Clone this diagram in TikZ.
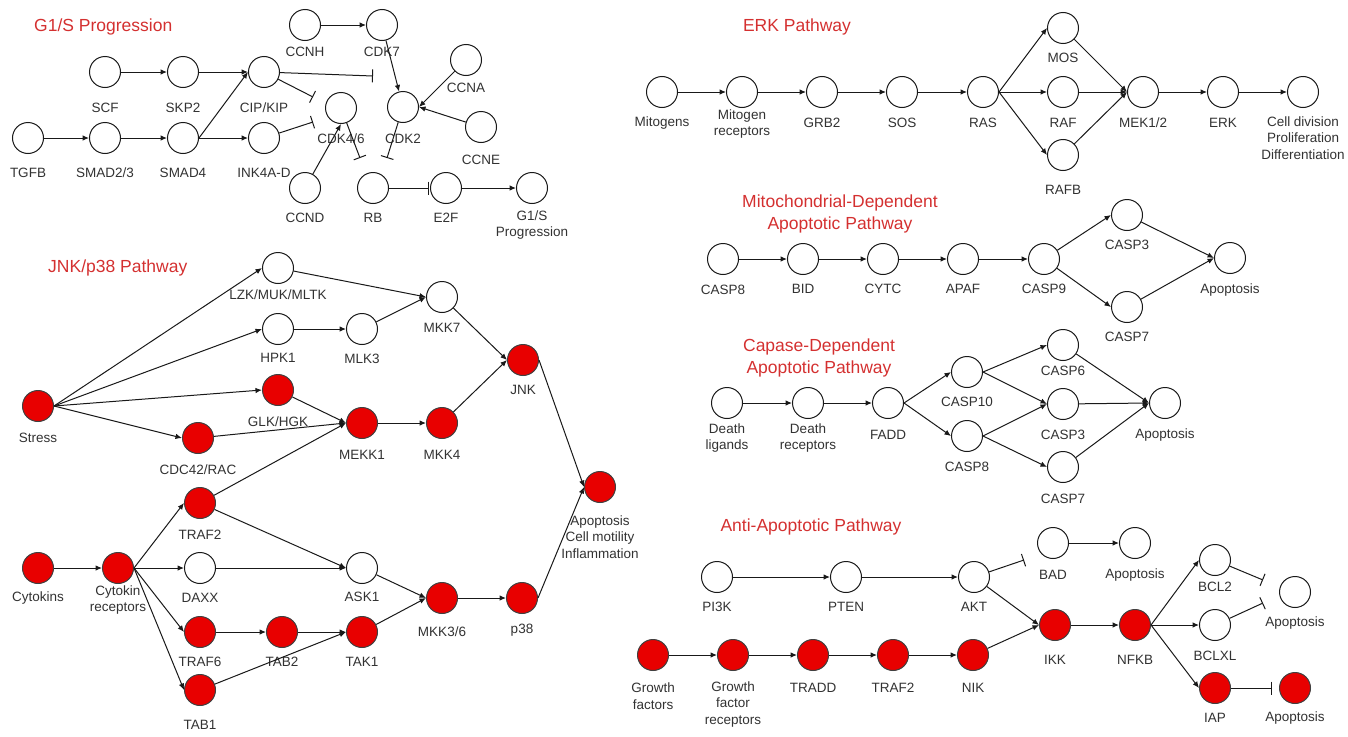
\documentclass[tikz,border=0pt]{standalone}
\usepackage{fontspec}
\setmainfont{Liberation Sans}
\usetikzlibrary{arrows.meta}
\definecolor{nred}{RGB}{232,0,0}
\definecolor{tred}{RGB}{212,48,48}
\definecolor{tgray}{RGB}{50,50,50}
\definecolor{lgray}{RGB}{25,25,25}
\tikzset{
  wn/.style={circle, draw=lgray, fill=white, minimum size=31pt, inner sep=0pt, line width=1pt},
  rn/.style={wn, fill=nred, draw=black!75},
  lab/.style={font=\fontsize{13.5}{16.5}\selectfont, text=tgray, align=center, inner sep=0pt},
  ttl/.style={font=\fontsize{17.5}{22}\selectfont, text=tred, align=center, inner sep=0pt},
  act/.style={draw=lgray, line width=1pt, -{Latex[length=6.5pt,width=5.5pt]}},
  inh/.style={draw=lgray, line width=1pt, -{Bar[width=13pt,line width=1pt]}},
}
\newcommand{\Nd}[6][wn]{\node[#1] (#2) at (#3,#4) {}; \node[lab] (#2-l) at (#3,#5) {#6};}
\begin{document}
\begin{tikzpicture}[x=1pt,y=-1pt]
\useasboundingbox (0,0) rectangle (1348,736);
% titles
\node[ttl, anchor=west] (t1) at (34,27) {G1/S Progression};
\node[ttl, anchor=west] (t2) at (48,268) {JNK/p38 Pathway};
\node[ttl] (t3) at (797,27) {ERK Pathway};
\node[ttl] (t4) at (840,214) {Mitochondrial-Dependent\\Apoptotic Pathway};
\node[ttl] (t5) at (819,358) {Capase-Dependent\\Apoptotic Pathway};
\node[ttl] (t6) at (811,527) {Anti-Apoptotic Pathway};
% G1/S
\Nd{ccnh}{305}{25}{52}{CCNH}
\Nd{cdk7}{382}{25}{52}{CDK7}
\Nd{ccna}{466}{60}{88}{CCNA}
\Nd{scf}{105}{72}{108}{SCF}
\Nd{skp2}{183}{72}{108}{SKP2}
\Nd{cip}{264}{72}{108}{CIP/KIP}
\Nd{cdk46}{341}{108}{139}{CDK4/6}
\Nd{cdk2}{403}{107}{139}{CDK2}
\Nd{ccne}{481}{127}{160}{CCNE}
\Nd{tgfb}{28}{138}{173}{TGFB}
\Nd{smad23}{105}{138}{173}{SMAD2/3}
\Nd{smad4}{183}{138}{173}{SMAD4}
\Nd{ink4}{264}{138}{173}{INK4A-D}
\Nd{ccnd}{305}{188}{218}{CCND}
\Nd{rb}{373}{188}{218}{RB}
\Nd{e2f}{446}{188}{218}{E2F}
\Nd{g1s}{532}{188}{225}{G1/S\\Progression}
\coordinate (i1) at (373,76);
\coordinate (i2) at (313,97);
\coordinate (i3) at (313,122);
\coordinate (i4) at (360,158);
\coordinate (i5) at (387,158);
\coordinate (i6) at (429,188);
\draw[act] (ccnh) -- (cdk7);
\draw[act] (cdk7) -- (cdk2);
\draw[act] (ccna) -- (cdk2.east);
\draw[act] (ccne) -- (cdk2.east);
\draw[act] (scf) -- (skp2);
\draw[act] (skp2) -- (cip);
\draw[act] (smad4.east) -- (cip.west);
\draw[act] (tgfb) -- (smad23);
\draw[act] (smad23) -- (smad4);
\draw[act] (smad4) -- (ink4);
\draw[act] (ccnd) -- (cdk46.south);
\draw[act] (e2f) -- (g1s);
\draw[inh] (cip) -- (i1);
\draw[inh] (cip) -- (i2);
\draw[inh] (ink4) -- (i3);
\draw[inh] (cdk46) -- (i4);
\draw[inh] (cdk2) -- (i5);
\draw[inh] (rb) -- (i6);
% JNK/p38
\Nd{lzk}{278}{268}{295}{LZK/MUK/MLTK}
\Nd{hpk1}{278}{329}{358}{HPK1}
\Nd[rn]{glk}{278}{390}{422}{GLK/HGK}
\Nd[rn]{stress}{38}{406}{438}{Stress}
\Nd[rn]{cdc42}{198}{438}{470}{CDC42/RAC}
\Nd{mkk7}{442}{297}{328}{MKK7}
\Nd{mlk3}{362}{329}{359}{MLK3}
\Nd[rn]{jnk}{523}{360}{390}{JNK}
\Nd[rn]{mekk1}{362}{423}{455}{MEKK1}
\Nd[rn]{mkk4}{442}{423}{455}{MKK4}
\Nd[rn]{apj}{600}{487}{537}{Apoptosis\\Cell motility\\Inflammation}
\Nd[rn]{traf2}{200}{503}{535}{TRAF2}
\Nd[rn]{cyt}{38}{568}{598}{Cytokins}
\Nd[rn]{cytr}{118}{568}{600}{Cytokin\\receptors}
\Nd{daxx}{200}{568}{598}{DAXX}
\Nd{ask1}{362}{568}{597}{ASK1}
\Nd[rn]{traf6}{200}{632}{662}{TRAF6}
\Nd[rn]{tab2}{282}{632}{662}{TAB2}
\Nd[rn]{tak1}{362}{632}{662}{TAK1}
\Nd[rn]{tab1}{200}{690}{725}{TAB1}
\Nd[rn]{mkk36}{442}{598}{632}{MKK3/6}
\Nd[rn]{p38}{522}{598}{630}{p38}
\draw[act] (stress.east) -- (lzk.west);
\draw[act] (stress.east) -- (hpk1.west);
\draw[act] (stress.east) -- (glk.west);
\draw[act] (stress.east) -- (cdc42.west);
\draw[act] (lzk) -- (mkk7.west);
\draw[act] (hpk1) -- (mlk3);
\draw[act] (mlk3) -- (mkk7.west);
\draw[act] (mkk7) -- (jnk.west);
\draw[act] (glk) -- (mekk1.west);
\draw[act] (cdc42) -- (mekk1.west);
\draw[act] (traf2) -- (mekk1.west);
\draw[act] (mekk1) -- (mkk4);
\draw[act] (mkk4) -- (jnk.west);
\draw[act] (jnk.east) -- (apj.west);
\draw[act] (cyt) -- (cytr);
\draw[act] (cytr.east) -- (traf2.west);
\draw[act] (cytr.east) -- (daxx.west);
\draw[act] (cytr.east) -- (traf6.west);
\draw[act] (cytr.east) -- (tab1.west);
\draw[act] (traf2) -- (ask1.west);
\draw[act] (daxx) -- (ask1);
\draw[act] (traf6) -- (tab2);
\draw[act] (tab2) -- (tak1);
\draw[act] (tab1) -- (tak1.west);
\draw[act] (ask1) -- (mkk36.west);
\draw[act] (tak1) -- (mkk36.west);
\draw[act] (mkk36) -- (p38);
\draw[act] (p38.east) -- (apj.west);
% ERK
\Nd{mitog}{662}{92}{123}{Mitogens}
\Nd{mitr}{742}{92}{124}{Mitogen\\receptors}
\Nd{grb2}{822}{92}{123}{GRB2}
\Nd{sos}{902}{92}{123}{SOS}
\Nd{ras}{983}{92}{123}{RAS}
\Nd{mos}{1063}{28}{58}{MOS}
\Nd{raf}{1063}{92}{123}{RAF}
\Nd{rafb}{1063}{155}{190}{RAFB}
\Nd{mek}{1143}{92}{123}{MEK1/2}
\Nd{erk}{1223}{92}{123}{ERK}
\Nd{cell}{1303}{92}{138}{Cell division\\Proliferation\\Differentiation}
\draw[act] (mitog) -- (mitr);
\draw[act] (mitr) -- (grb2);
\draw[act] (grb2) -- (sos);
\draw[act] (sos) -- (ras);
\draw[act] (ras.east) -- (mos.west);
\draw[act] (ras.east) -- (raf.west);
\draw[act] (ras.east) -- (rafb.west);
\draw[act] (mos) -- (mek.west);
\draw[act] (raf) -- (mek.west);
\draw[act] (rafb) -- (mek.west);
\draw[act] (mek) -- (erk);
\draw[act] (erk) -- (cell);
% Mitochondrial
\Nd{casp8m}{723}{259}{290}{CASP8}
\Nd{bid}{803}{259}{289}{BID}
\Nd{cytc}{883}{259}{289}{CYTC}
\Nd{apaf}{963}{259}{289}{APAF}
\Nd{casp9}{1044}{259}{289}{CASP9}
\Nd{casp3m}{1127}{215}{245}{CASP3}
\Nd{casp7m}{1127}{307}{337}{CASP7}
\Nd{apm}{1230}{258}{290}{Apoptosis}
\draw[act] (casp8m) -- (bid);
\draw[act] (bid) -- (cytc);
\draw[act] (cytc) -- (apaf);
\draw[act] (apaf) -- (casp9);
\draw[act] (casp9) -- (casp3m.west);
\draw[act] (casp9) -- (casp7m.west);
\draw[act] (casp3m) -- (apm.west);
\draw[act] (casp7m) -- (apm.west);
% Capase
\Nd{dl}{727}{403}{438}{Death\\ligands}
\Nd{dr}{808}{403}{438}{Death\\receptors}
\Nd{fadd}{888}{403}{435}{FADD}
\Nd{casp10}{967}{372}{402}{CASP10}
\Nd{casp8c}{967}{436}{467}{CASP8}
\Nd{casp6}{1063}{345}{371}{CASP6}
\Nd{casp3c}{1063}{404}{435}{CASP3}
\Nd{casp7c}{1063}{467}{499}{CASP7}
\Nd{apc}{1165}{403}{435}{Apoptosis}
\draw[act] (dl) -- (dr);
\draw[act] (dr) -- (fadd);
\draw[act] (fadd.east) -- (casp10.west);
\draw[act] (fadd.east) -- (casp8c.west);
\draw[act] (casp10.east) -- (casp6.west);
\draw[act] (casp10.east) -- (casp3c.west);
\draw[act] (casp8c.east) -- (casp3c.west);
\draw[act] (casp8c.east) -- (casp7c.west);
\draw[act] (casp6) -- (apc.west);
\draw[act] (casp3c) -- (apc.west);
\draw[act] (casp7c) -- (apc.west);
% Anti-apoptotic
\Nd{pi3k}{717}{577}{607}{PI3K}
\Nd{pten}{846}{577}{607}{PTEN}
\Nd{akt}{974}{577}{607}{AKT}
\Nd[rn]{gf}{653}{655}{696}{Growth\\factors}
\Nd[rn]{gfr}{733}{655}{704}{Growth\\factor\\receptors}
\Nd[rn]{tradd}{813}{655}{688}{TRADD}
\Nd[rn]{traf2b}{893}{655}{688}{TRAF2}
\Nd[rn]{nik}{973}{655}{688}{NIK}
\Nd[rn]{ikk}{1055}{625}{660}{IKK}
\Nd{bad}{1053}{543}{575}{BAD}
\Nd{apbad}{1135}{543}{575}{Apoptosis}
\Nd[rn]{nfkb}{1135}{625}{660}{NFKB}
\Nd{bcl2}{1215}{560}{587}{BCL2}
\Nd{bclxl}{1215}{625}{656}{BCLXL}
\Nd{apbcl}{1295}{592}{623}{Apoptosis}
\Nd[rn]{iap}{1215}{688}{718}{IAP}
\Nd[rn]{apiap}{1295}{688}{718}{Apoptosis}
\coordinate (i7) at (1024,560);
\coordinate (i8) at (1263,580);
\coordinate (i9) at (1263,603);
\coordinate (i10) at (1272,688);
\draw[act] (pi3k) -- (pten);
\draw[act] (pten) -- (akt);
\draw[inh] (akt) -- (i7);
\draw[act] (akt) -- (ikk.west);
\draw[act] (gf) -- (gfr);
\draw[act] (gfr) -- (tradd);
\draw[act] (tradd) -- (traf2b);
\draw[act] (traf2b) -- (nik);
\draw[act] (nik) -- (ikk.west);
\draw[act] (bad) -- (apbad);
\draw[act] (ikk) -- (nfkb);
\draw[act] (nfkb.east) -- (bcl2.west);
\draw[act] (nfkb.east) -- (bclxl.west);
\draw[act] (nfkb.east) -- (iap.west);
\draw[inh] (bcl2) -- (i8);
\draw[inh] (bclxl) -- (i9);
\draw[inh] (iap) -- (i10);
\end{tikzpicture}
\end{document}
